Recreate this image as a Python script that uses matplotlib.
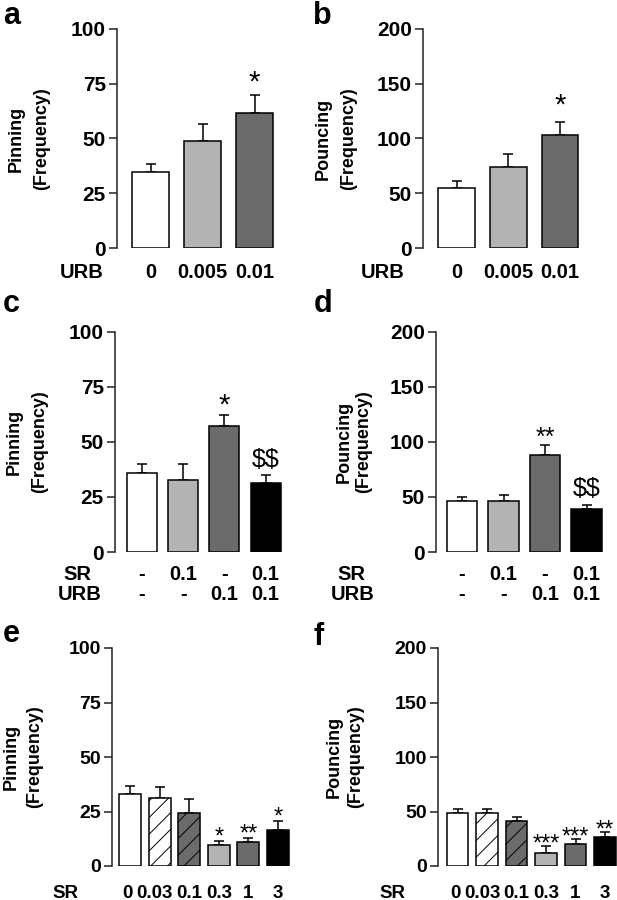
import numpy as np
import matplotlib
matplotlib.use("Agg")
import matplotlib.pyplot as plt
from matplotlib.transforms import blended_transform_factory

plt.rcParams['font.family'] = ['Liberation Sans', 'DejaVu Sans']
plt.rcParams['font.weight'] = 'bold'
plt.rcParams['hatch.linewidth'] = 0.7

# ---- data ----
urb_doses = ['0', '0.005', '0.01']
pin_urb = [34.8, 49.0, 61.8]
pin_urb_sem = [3.4, 7.5, 8.1]
pin_urb_sig = ['', '', '*']
pou_urb = [55.0, 73.6, 103.2]
pou_urb_sem = [6.1, 12.2, 12.2]
pou_urb_sig = ['', '', '*']

combo_sr = ['-', '0.1', '-', '0.1']
combo_urb = ['-', '-', '0.1', '0.1']
pin_combo = [36.1, 32.9, 57.4, 31.2]
pin_combo_sem = [3.7, 6.9, 4.9, 3.6]
pin_combo_sig = ['', '', '*', '$$']
pou_combo = [46.4, 46.4, 87.9, 39.4]
pou_combo_sem = [3.6, 5.1, 9.7, 3.6]
pou_combo_sig = ['', '', '**', '$$']

sr_doses = ['0', '0.03', '0.1', '0.3', '1', '3']
pin_sr = [33.2, 31.0, 24.5, 9.5, 10.9, 16.5]
pin_sr_sem = [3.7, 5.2, 6.1, 2.1, 1.9, 4.3]
pin_sr_sig = ['', '', '', '*', '**', '*']
pou_sr = [48.6, 48.6, 41.6, 11.9, 20.5, 26.9]
pou_sr_sem = [4.0, 4.0, 3.7, 6.1, 4.0, 4.0]
pou_sr_sig = ['', '', '', '***', '***', '**']

W, H = 617, 900
LIGHT = '#b3b3b3'
DARK = '#6b6b6b'
colors_3 = ['white', LIGHT, DARK]
colors_4 = ['white', LIGHT, DARK, 'black']
colors_6 = ['white', 'white', DARK, LIGHT, DARK, 'black']
hatches_6 = [None, '//', '//', None, None, None]

fig = plt.figure(figsize=(W / 100, H / 100), dpi=100)


def panel(left, top, bottom, right, c0, step, width, means, sems, colors,
          ymax, ylabel, ylab_x, letter, letter_xy, sig, star_fs, star_off,
          hatches=None, tick_fs=15, ylab_ls=1.6):
    ax = fig.add_axes([left / W, 1 - bottom / H, (right - left) / W, (bottom - top) / H])
    x = np.arange(len(means))
    ax.bar(x, means, width=width, color=colors, edgecolor='black',
           linewidth=1.1, zorder=2, hatch=hatches)
    ax.errorbar(x, means, yerr=[np.zeros(len(sems)), sems], fmt='none',
                ecolor='black', elinewidth=1.1, capsize=3.5, capthick=1.1, zorder=1)
    ax.set_xlim(-(c0 - left) / step, (right - c0) / step)
    ax.set_ylim(0, ymax)
    ax.set_yticks(np.linspace(0, ymax, 5))
    ax.set_yticklabels([f'{int(v)}' for v in np.linspace(0, ymax, 5)])
    ax.set_xticks([])
    for s in ['top', 'right', 'bottom']:
        ax.spines[s].set_visible(False)
    ax.spines['left'].set_linewidth(1.1)
    ax.spines['left'].set_color('#222222')
    ax.tick_params(axis='y', direction='out', length=6, width=1.1,
                   labelsize=tick_fs, pad=2, color='#222222')
    ax.patch.set_visible(False)
    for i, t in enumerate(sig):
        if not t:
            continue
        if '$' in t:
            ax.annotate(t.replace('$', r'\$'), (i, means[i] + sems[i]), xytext=(0, 6),
                        textcoords='offset points', ha='center', va='baseline',
                        fontsize=18, fontweight='normal')
        else:
            ax.annotate(t, (i, means[i] + sems[i]), xytext=(0, star_off),
                        textcoords='offset points', ha='center', va='baseline',
                        fontsize=star_fs, fontweight='normal')
    fig.text(ylab_x / W, 1 - (top + bottom) / 2 / H, ylabel, rotation=90,
             ha='center', va='center', multialignment='center',
             fontsize=13, linespacing=ylab_ls)
    fig.text(letter_xy[0] / W, 1 - letter_xy[1] / H, letter, fontsize=22,
             va='baseline', ha='left')
    return ax


def row(ax, labels, ypix, name, name_x, fs=14.5, nudge=None):
    tr = blended_transform_factory(ax.transData, fig.transFigure)
    nudge = nudge or {}
    for i, lab in enumerate(labels):
        ax.text(i + nudge.get(i, 0), 1 - ypix / H, lab, transform=tr,
                ha='center', va='center', fontsize=fs)
    fig.text(name_x / W, 1 - ypix / H, name, ha='center', va='center', fontsize=fs)


pin_label = 'Pinning\n(Frequency)'
pou_label = 'Pouncing\n(Frequency)'
sr_nudge = {0: -0.08, 1: -0.17}

# a
ax = panel(117, 29, 248, 278, 150.5, 52, 0.71, pin_urb, pin_urb_sem, colors_3,
           100, pin_label, 29, 'a', (3, 24), pin_urb_sig, 21, 3)
row(ax, urb_doses, 273, 'URB', 82)
# b
ax = panel(423, 29, 248, 584, 456.5, 51.75, 0.71, pou_urb, pou_urb_sem, colors_3,
           200, pou_label, 336, 'b', (313, 24), pou_urb_sig, 21, 6)
row(ax, urb_doses, 273, 'URB', 383)
# c
ax = panel(115, 332, 552, 286, 142, 41.2, 0.73, pin_combo, pin_combo_sem, colors_4,
           100, pin_label, 27, 'c', (3, 312), pin_combo_sig, 21, 1)
row(ax, combo_sr, 575, 'SR', 77)
row(ax, combo_urb, 594, 'URB', 80)
# d
ax = panel(436, 332, 552, 607, 462, 41.5, 0.73, pou_combo, pou_combo_sem, colors_4,
           200, pou_label, 354, 'd', (314, 312), pou_combo_sig, 18, 0, ylab_ls=1.25)
row(ax, combo_sr, 575, 'SR', 351)
row(ax, combo_urb, 594, 'URB', 353)
# e
ax = panel(112, 648, 866, 294, 130, 29.6, 0.74, pin_sr, pin_sr_sem, colors_6,
           100, pin_label, 23, 'e', (3, 642), pin_sr_sig, 17, -2, hatches_6,
           tick_fs=14, ylab_ls=1.45)
row(ax, sr_doses, 893, 'SR', 65, fs=13.5, nudge=sr_nudge)
# f
ax = panel(438, 648, 866, 620, 457.5, 29.5, 0.74, pou_sr, pou_sr_sem, colors_6,
           200, pou_label, 345, 'f', (313, 645), pou_sr_sig, 17, -3, hatches_6,
           tick_fs=14, ylab_ls=1.3)
row(ax, sr_doses, 893, 'SR', 392, fs=13.5, nudge=sr_nudge)

fig.savefig('out.png', dpi=100)
